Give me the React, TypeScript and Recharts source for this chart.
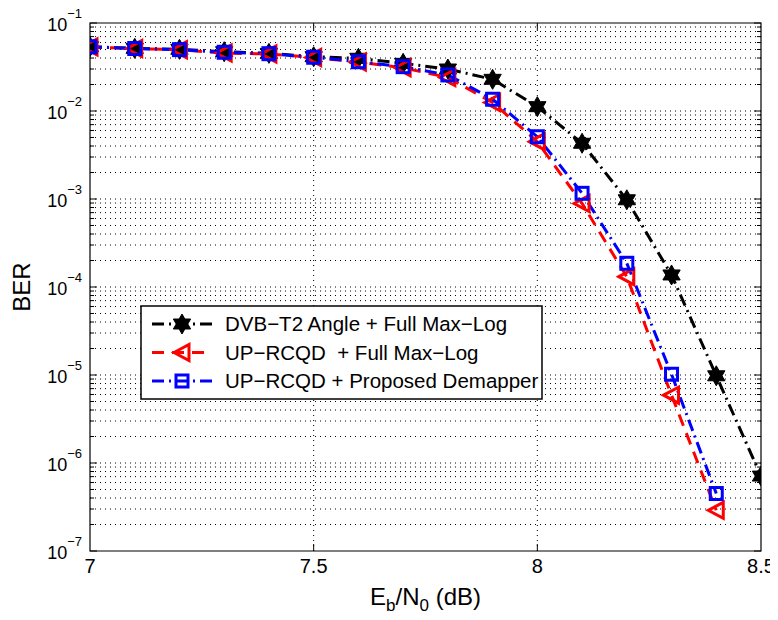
import React from "react";
import {
  LineChart,
  Line,
  XAxis,
  YAxis,
  ReferenceLine,
  ReferenceArea,
} from "recharts";

const ebn0 = [7.0, 7.1, 7.2, 7.3, 7.4, 7.5, 7.6, 7.7, 7.8, 7.9, 8.0, 8.1, 8.2, 8.3, 8.4, 8.5];
const dvbT2 = [0.0538, 0.0515, 0.0502, 0.0472, 0.0452, 0.0414, 0.0397, 0.0348, 0.03, 0.0229, 0.0112, 0.0043, 0.00098, 0.000137, 0.0000098, 0.00000071];
const rcqdMaxLog = [0.0535, 0.0512, 0.0495, 0.0455, 0.0445, 0.0405, 0.036, 0.031, 0.024, 0.0125, 0.00448, 0.00089, 0.000131, 0.0000059, 0.00000029];
const rcqdProposed = [0.0536, 0.0513, 0.0498, 0.0465, 0.0448, 0.0408, 0.0363, 0.0319, 0.0257, 0.0136, 0.0051, 0.00116, 0.000186, 0.0000102, 0.00000045];

const xTicks = [7, 7.5, 8, 8.5];
const yTicks = [1e-7, 1e-6, 1e-5, 1e-4, 1e-3, 1e-2, 1e-1];
const legendNames = [
  "DVB\u2212T2 Angle + Full Max\u2212Log",
  "UP\u2212RCQD  + Full Max\u2212Log",
  "UP\u2212RCQD + Proposed Demapper",
];

const data = ebn0.map((x, i) => ({
  x,
  dvb: dvbT2[i],
  maxlog: rcqdMaxLog[i],
  prop: rcqdProposed[i],
}));

// minor grid values 2..9 x 10^k
const minorY: number[] = [];
for (let k = -7; k < -1; k++) {
  for (let m = 2; m <= 9; m++) minorY.push(m * Math.pow(10, k));
}

const FONT = "'Liberation Sans', Arial, sans-serif";

const starPath = (cx: number, cy: number, r: number) => {
  const pts: string[] = [];
  for (let i = 0; i < 12; i++) {
    const a = (-90 + i * 30) * (Math.PI / 180);
    const rr = i % 2 === 0 ? r : r * 0.577;
    pts.push(`${cx + rr * Math.cos(a)},${cy + rr * Math.sin(a)}`);
  }
  return "M" + pts.join("L") + "Z";
};

const Star = ({ cx, cy }: any) => <path d={starPath(cx, cy, 10)} fill="#000" stroke="#000" strokeWidth={1} />;
const Tri = ({ cx, cy }: any) => (
  <path d={`M${cx - 8},${cy}L${cx + 7},${cy - 8}L${cx + 7},${cy + 8}Z`} fill="none" stroke="#ff0000" strokeWidth={3} />
);
const Sq = ({ cx, cy }: any) => (
  <rect x={cx - 6} y={cy - 6} width={12} height={12} fill="none" stroke="#0000ff" strokeWidth={3} />
);

const dotOf = (Comp: any) => (p: any) => {
  if (p.cy == null || isNaN(p.cy)) return <g key={p.index} />;
  return <Comp key={p.index} cx={p.cx} cy={p.cy} />;
};

const YTick = (p: any) => {
  const e = Math.round(Math.log10(p.payload.value));
  return (
    <text x={p.x} y={p.y} textAnchor="end" fontSize={18} fill="#000" fontFamily={FONT}>
      <tspan dy={8}>10</tspan>
      <tspan dy={-13} fontSize={13}>{"\u2212" + -e}</tspan>
    </text>
  );
};

const XLabel = ({ viewBox }: any) => (
  <text x={viewBox.x + viewBox.width / 2} y={viewBox.y + 54} textAnchor="middle" fontSize={24} fill="#000" fontFamily={FONT}>
    E<tspan dy={6} fontSize={17}>b</tspan>
    <tspan dy={-6}>/N</tspan>
    <tspan dy={6} fontSize={17}>0</tspan>
    <tspan dy={-6}> (dB)</tspan>
  </text>
);

const YLabel = ({ viewBox }: any) => {
  const cx = 16;
  const cy = viewBox.y + viewBox.height / 2;
  return (
    <text x={cx} y={cy} transform={`rotate(-90 ${cx} ${cy})`} textAnchor="middle" dominantBaseline="middle" fontSize={24} fill="#000" fontFamily={FONT}>
      BER
    </text>
  );
};

const series = [
  { key: "dvb", color: "#000", dash: "12 5 2 5", Mark: Star },
  { key: "maxlog", color: "#ff0000", dash: "12 8", Mark: Tri },
  { key: "prop", color: "#0000ff", dash: "12 5 2 5", Mark: Sq },
];

const LegendBox = () => (
  <div style={{ position: "absolute", left: 132, top: 305 }}>
    <svg width={404} height={96}>
      <rect x={1} y={1} width={401} height={93} fill="#fff" stroke="#000" strokeWidth={1.5} />
      {series.map((s, i) => {
        const y = 19 + i * 28.5;
        return (
          <g key={s.key}>
            <line x1={12} x2={72} y1={y} y2={y} stroke={s.color} strokeWidth={3} strokeDasharray={s.dash} />
            <s.Mark cx={42} cy={y} />
            <text x={85} y={y + 7} fontSize={20.5} fontFamily={FONT} fill="#000" style={{ whiteSpace: "pre" }}>
              {legendNames[i]}
            </text>
          </g>
        );
      })}
    </svg>
  </div>
);

const dxMajor = 0.0156;
const dxMinor = 0.009;

export default function App() {
  return (
    <div style={{ position: "relative", width: 770, height: 620, marginTop: -8, background: "#fff" }}>
      <LineChart width={770} height={620} data={data} margin={{ top: 23, right: 17, bottom: 0, left: 0 }}>
        <XAxis
          dataKey="x"
          type="number"
          domain={[7, 8.5]}
          ticks={xTicks}
          tickFormatter={(v: number) => String(v)}
          tickLine={false}
          axisLine={false}
          height={69}
          tick={{ fontSize: 20, fill: "#000", fontFamily: FONT }}
          label={{ content: XLabel } as any}
          allowDataOverflow
        />
        <YAxis
          type="number"
          scale="log"
          domain={[1e-7, 1e-1]}
          ticks={yTicks}
          tick={<YTick />}
          tickLine={false}
          axisLine={false}
          width={82}
          label={{ content: YLabel } as any}
          allowDataOverflow
        />
        {minorY.concat(yTicks.slice(1, -1)).map((v) => (
          <ReferenceLine key={"gy" + v} y={v} stroke="#000" strokeWidth={1} strokeDasharray="1 4" />
        ))}
        {[7.5, 8].map((v) => (
          <ReferenceLine key={"gx" + v} x={v} stroke="#000" strokeWidth={1} strokeDasharray="1 4" />
        ))}
        {yTicks.map((v) => (
          <ReferenceLine key={"tl" + v} segment={[{ x: 7, y: v }, { x: 7 + dxMajor, y: v }]} stroke="#000" ifOverflow="visible" />
        ))}
        {yTicks.map((v) => (
          <ReferenceLine key={"tr" + v} segment={[{ x: 8.5 - dxMajor, y: v }, { x: 8.5, y: v }]} stroke="#000" ifOverflow="visible" />
        ))}
        {minorY.map((v) => (
          <ReferenceLine key={"ml" + v} segment={[{ x: 7, y: v }, { x: 7 + dxMinor, y: v }]} stroke="#000" ifOverflow="visible" />
        ))}
        {minorY.map((v) => (
          <ReferenceLine key={"mr" + v} segment={[{ x: 8.5 - dxMinor, y: v }, { x: 8.5, y: v }]} stroke="#000" ifOverflow="visible" />
        ))}
        {[7.5, 8].map((v) => (
          <ReferenceLine key={"tb" + v} segment={[{ x: v, y: 1e-7 }, { x: v, y: 1.2e-7 }]} stroke="#000" ifOverflow="visible" />
        ))}
        {[7.5, 8].map((v) => (
          <ReferenceLine key={"tt" + v} segment={[{ x: v, y: 1e-1 }, { x: v, y: 1e-1 / 1.2 }]} stroke="#000" ifOverflow="visible" />
        ))}
        <ReferenceArea x1={7} x2={8.5} y1={1e-7} y2={1e-1} fill="none" fillOpacity={0} stroke="#000" strokeWidth={1.2} ifOverflow="visible" />
        {series.map((s) => (
          <Line
            key={s.key}
            dataKey={s.key}
            stroke={s.color}
            strokeWidth={3}
            strokeDasharray={s.dash}
            dot={dotOf(s.Mark)}
            activeDot={false}
            isAnimationActive={false}
            type="linear"
          />
        ))}
      </LineChart>
      <LegendBox />
    </div>
  );
}
